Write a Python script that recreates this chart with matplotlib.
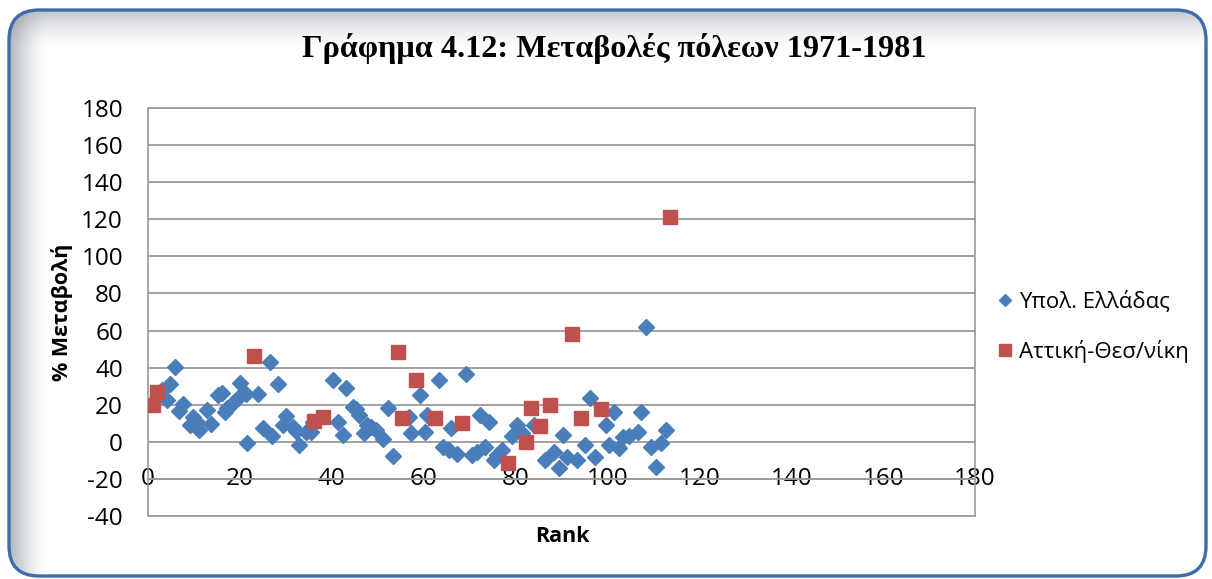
import numpy as np
import matplotlib
matplotlib.use("Agg")
import matplotlib.pyplot as plt
from matplotlib.patches import FancyBboxPatch, Rectangle

# Υπολ. Ελλάδας (rank, % change)
blue_rank = [3.0, 4.1, 4.8, 5.9, 6.8, 7.7, 9.2, 9.9, 10.7, 11.0, 12.9, 13.8, 15.3, 16.2,
             16.8, 17.3, 18.6, 19.5, 20.1, 21.4, 21.6, 24.0, 25.0, 26.5, 27.0, 28.2,
             29.3, 30.0, 31.5, 32.2, 32.8, 34.4, 35.4, 36.0, 40.3, 41.3, 42.4, 43.0,
             44.6, 45.3, 46.0, 47.0, 47.6, 48.6, 49.7, 51.2, 52.3, 53.4, 56.7, 57.2,
             59.3, 60.2, 60.8, 63.3, 64.1, 65.5, 66.0, 67.3, 69.2, 70.5, 71.6, 72.2,
             73.3, 74.2, 75.3, 75.9, 77.0, 79.2, 80.3, 81.4, 84.0, 86.4, 88.4, 89.5,
             90.4, 91.2, 93.4, 95.2, 96.3, 97.4, 99.6, 100.4, 101.5, 102.6, 103.3,
             104.8, 106.6, 107.2, 108.3, 109.4, 110.5, 111.6, 112.7]
blue_change = [28, 22.6, 31, 40.5, 16.7, 20.5, 9, 13.5, 10.8, 6.5, 17.2, 9.7, 25.3, 26.4,
               16.2, 18.3, 21, 23.7, 31.8, 25.9, -0.5, 25.9, 7.5, 43, 3.2, 31.3,
               9.2, 14, 8, 6, -1.6, 5.4, 5.4, 10.8, 33.4, 10.8, 3.8, 29,
               18.9, 17.5, 14.5, 4.9, 9.2, 8, 6.5, 1.5, 18.3, -7.5, 13.5, 4.9,
               25.3, 5.4, 14.5, 33.4, -2.7, -4.3, 7.5, -6.5, 36.8, -7, -5.4, 14.5,
               -2.7, 10.8, -9.7, -7, -4.3, 3.2, 9.2, 4.9, 9.2, -9.7, -5.4, -14,
               3.8, -8.3, -9.7, -1.6, 23.7, -8.3, 9.2, -1.6, 16.2, -3.2, 2.7,
               3.2, 5.4, 16.2, 62, -2.7, -13.5, -0.5, 6.5]

# Αττική-Θεσ/νίκη
red_rank = [1.0, 2.0, 23.0, 36.1, 38.1, 54.4, 55.3, 58.3, 62.4, 68.3, 78.3, 82.3, 83.4,
            85.3, 87.5, 92.3, 94.3, 98.5, 113.6]
red_change = [20, 27, 46.4, 11.3, 13.5, 48.5, 12.9, 33.4, 12.9, 10.2, -11.3, 0, 18.3,
              8.6, 20, 58.2, 12.9, 17.8, 121]

labels = ["Υπολ. Ελλάδας", "Αττική-Θεσ/νίκη"]
title = "Γράφημα 4.12: Μεταβολές πόλεων 1971-1981"

plt.rcParams['font.family'] = ['Open Sans', 'DejaVu Sans']
plt.rcParams['axes.unicode_minus'] = False

W, H = 1212, 579
fig = plt.figure(figsize=(W / 100, H / 100), dpi=100)

# background frame in pixel coordinates
bg = fig.add_axes([0, 0, 1, 1])
bg.axis('off')
bg.set_xlim(0, W)
bg.set_ylim(H, 0)
x0, y0, x1, y1, r = 9, 10, 1206, 576, 30
frame = FancyBboxPatch((x0, y0), x1 - x0, y1 - y0,
                       boxstyle="round,pad=0,rounding_size=%d" % r,
                       fc='white', ec='none', zorder=1)
bg.add_patch(frame)
# grey shadow fading in from the left and top edges
shade = (0.40, 0.44, 0.49)
for i in range(38):
    a = (1 - i / 38.0) ** 1.5
    p = Rectangle((x0, y0 + i), x1 - x0, 1, fc=shade, alpha=0.40 * a, lw=0,
                  antialiased=False, zorder=2)
    bg.add_patch(p)
    p.set_clip_path(frame)
    p = Rectangle((x0 + i, y0), 1, y1 - y0, fc=shade, alpha=0.52 * a, lw=0,
                  antialiased=False, zorder=2)
    bg.add_patch(p)
    p.set_clip_path(frame)
bg.add_patch(FancyBboxPatch((x0, y0), x1 - x0, y1 - y0,
                            boxstyle="round,pad=0,rounding_size=%d" % r,
                            fc='none', ec='#3d6ca8', lw=2.4, zorder=3))

ax = fig.add_axes([148 / W, 1 - 516 / H, (975 - 148) / W, (516 - 108) / H])
ax.set_facecolor('none')
ax.set_xlim(0, 180)
ax.set_ylim(-40, 180)
ax.set_xticks(np.arange(0, 181, 20))
ax.set_yticks(np.arange(-40, 181, 20))
ax.yaxis.grid(True, color='#919191', lw=1.2)
ax.set_axisbelow(True)
for s in ax.spines.values():
    s.set_color('#9a9a9a')
    s.set_linewidth(1.2)
ax.spines['bottom'].set_position(('data', -20))
ax.plot([0, 180], [-40, -40], color='#9a9a9a', lw=1.2, clip_on=False, zorder=1)
ax.tick_params(length=0, labelsize=17.5)
ax.tick_params(axis='x', pad=0)
ax.tick_params(axis='y', pad=18)
for lb in ax.get_xticklabels():
    lb.set_va('center')

ax.plot(blue_rank, blue_change, 'D', ms=7.8, color='#4a7ebb', mec='#4a7ebb',
        label=labels[0], zorder=3)
ax.plot(red_rank, red_change, 's', ms=10.5, color='#c0504d', mec='#c0504d',
        label=labels[1], zorder=4)

ax.set_xlabel("Rank", fontsize=15.5, fontweight='bold', labelpad=0)
ax.xaxis.set_label_coords((562 - 148) / (975 - 148), -(526 - 516) / (516 - 108))
ax.set_ylabel("% Μεταβολή", fontsize=15.5, fontweight='bold')
ax.yaxis.set_label_coords(-(148 - 73) / (975 - 148), 1 - (312 - 108) / (516 - 108))

fig.text(614 / W, 1 - 48 / H, title, ha='center', va='center', fontsize=23.2,
         fontweight='bold', family='Liberation Serif')

ax.legend(loc='center left', bbox_to_anchor=(986 / W, 1 - 327 / H),
          bbox_transform=fig.transFigure, frameon=False, fontsize=16,
          handlelength=0.7, handletextpad=0.3, labelspacing=1.2, borderpad=0,
          markerscale=0.8)

fig.savefig("out.png", dpi=100)
